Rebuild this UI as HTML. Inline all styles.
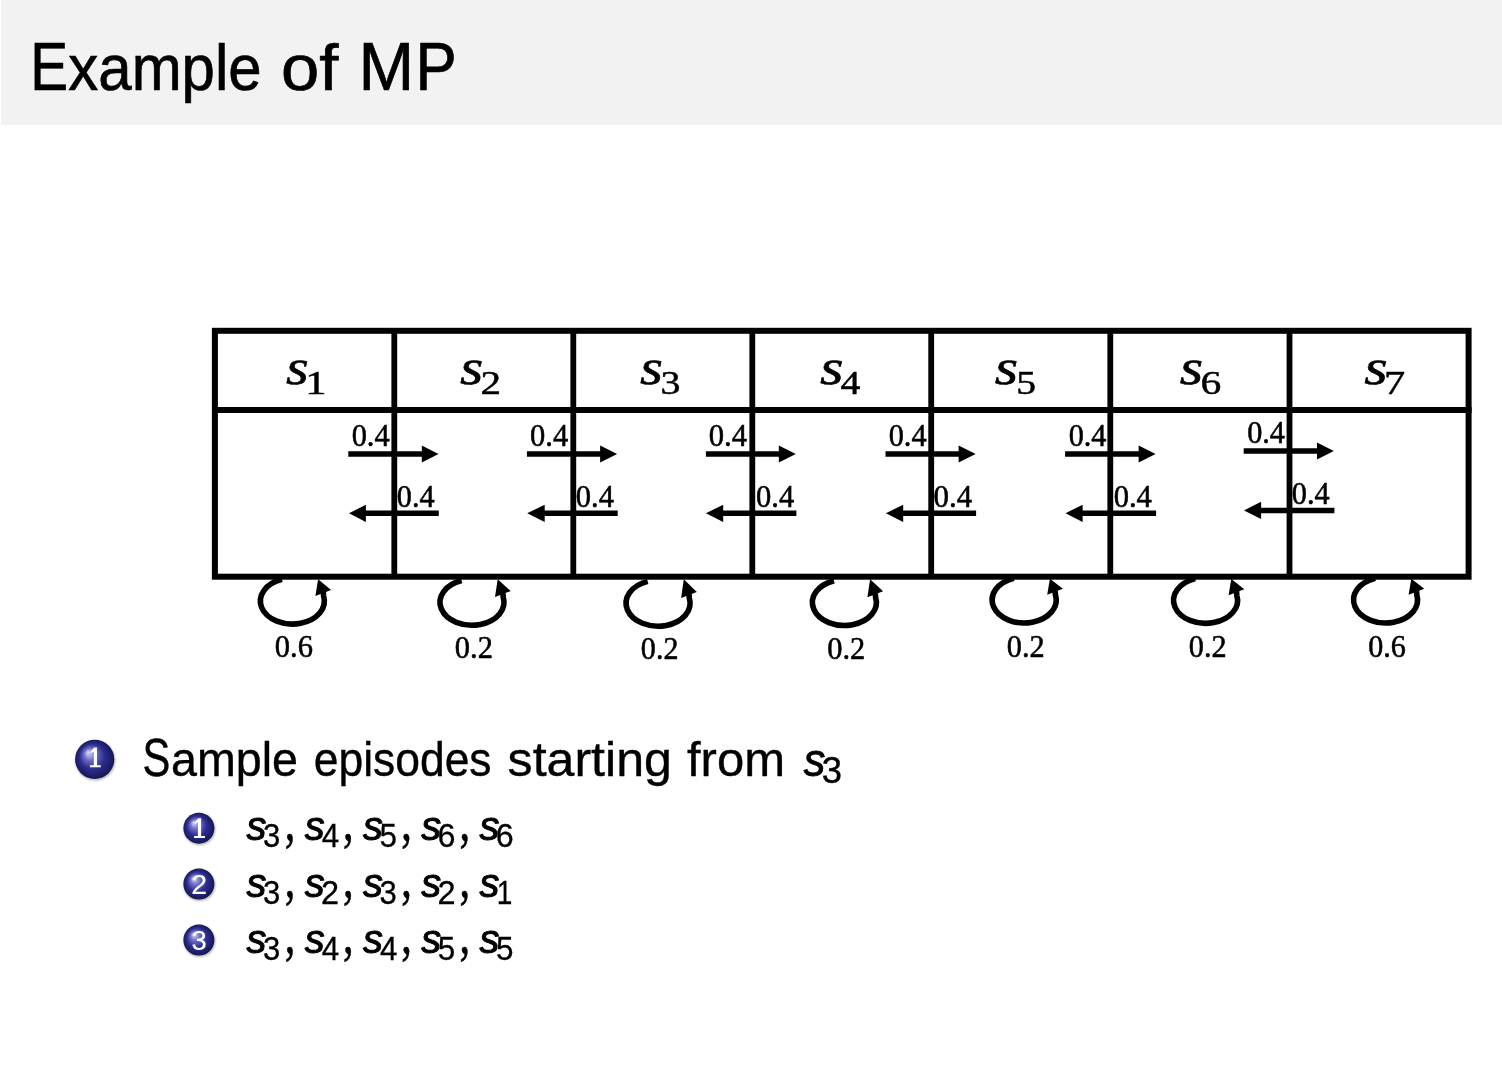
<!DOCTYPE html>
<html><head><meta charset="utf-8"><title>Example of MP</title>
<style>
html,body{margin:0;padding:0;background:#fff;}
body{width:1502px;height:1080px;overflow:hidden;position:relative;}
svg{position:absolute;left:0;top:0;will-change:transform;}
text{font-kerning:none;font-variant-ligatures:none;}
</style></head>
<body>
<svg width="1502" height="1080" viewBox="0 0 1502 1080">
<defs>
<radialGradient id="ball" cx="50%" cy="50%" r="52%" fx="33%" fy="32%">
<stop offset="0" stop-color="#dcdcf4"/>
<stop offset="0.3" stop-color="#6c6cc6"/>
<stop offset="0.62" stop-color="#2c2c8e"/>
<stop offset="1" stop-color="#15154e"/>
</radialGradient>
<filter id="blur" x="-30%" y="-30%" width="160%" height="160%"><feGaussianBlur stdDeviation="1"/></filter>
</defs>
<rect x="1" y="0" width="1501" height="125" fill="#f2f2f2"/>
<text transform="translate(30.34,90.00) scale(0.8357,1.0000)" style="font-family:'Liberation Sans',sans-serif;font-style:normal;font-size:68px;fill:#000;stroke:#000;stroke-width:0.7px;">E</text>
<text transform="translate(68.33,90.00) scale(0.9371,1.0000)" style="font-family:'Liberation Sans',sans-serif;font-style:normal;font-size:64px;fill:#000;stroke:#000;stroke-width:0.7px;">xample</text>
<text transform="translate(280.91,90.00) scale(1.0752,1.0000)" style="font-family:'Liberation Sans',sans-serif;font-style:normal;font-size:64px;fill:#000;stroke:#000;stroke-width:0.7px;">of</text>
<text transform="translate(358.52,90.00) scale(0.9827,1.0000)" style="font-family:'Liberation Sans',sans-serif;font-style:normal;font-size:68px;fill:#000;stroke:#000;stroke-width:0.7px;">M</text>
<text transform="translate(415.43,90.00) scale(0.9091,1.0000)" style="font-family:'Liberation Sans',sans-serif;font-style:normal;font-size:68px;fill:#000;stroke:#000;stroke-width:0.7px;">P</text>
<rect x="214.9" y="330.8" width="1253.7" height="245.9" fill="none" stroke="#000" stroke-width="6"/>
<line x1="212" y1="410.1" x2="1471.6" y2="410.1" stroke="#000" stroke-width="6"/>
<line x1="394.3" y1="330" x2="394.3" y2="577" stroke="#000" stroke-width="5.8"/>
<line x1="573.3" y1="330" x2="573.3" y2="577" stroke="#000" stroke-width="5.8"/>
<line x1="752.3" y1="330" x2="752.3" y2="577" stroke="#000" stroke-width="5.8"/>
<line x1="931.2" y1="330" x2="931.2" y2="577" stroke="#000" stroke-width="5.8"/>
<line x1="1110.3" y1="330" x2="1110.3" y2="577" stroke="#000" stroke-width="5.8"/>
<line x1="1289.5" y1="330" x2="1289.5" y2="577" stroke="#000" stroke-width="5.8"/>
<line x1="348.3" y1="454.0" x2="422.8" y2="454.0" stroke="#000" stroke-width="5.5"/>
<polygon points="421.8,445.5 438.5,454.0 421.8,462.5"/>
<line x1="364.9" y1="513.3" x2="438.8" y2="513.3" stroke="#000" stroke-width="5.5"/>
<polygon points="349.0,513.3 365.9,504.7 365.9,521.9"/>
<text transform="translate(351.64,445.60) scale(0.9815,1.0000)" style="font-family:'Liberation Serif',serif;font-style:normal;font-size:31px;fill:#000;stroke:#000;stroke-width:0.55px;">0.4</text>
<text transform="translate(396.85,506.70) scale(0.9761,1.0000)" style="font-family:'Liberation Serif',serif;font-style:normal;font-size:31px;fill:#000;stroke:#000;stroke-width:0.55px;">0.4</text>
<line x1="526.9" y1="454.0" x2="601.1" y2="454.0" stroke="#000" stroke-width="5.5"/>
<polygon points="600.1,445.5 617.1,454.0 600.1,462.5"/>
<line x1="543.7" y1="513.3" x2="617.7" y2="513.3" stroke="#000" stroke-width="5.5"/>
<polygon points="527.2,513.3 544.7,504.7 544.7,521.9"/>
<text transform="translate(530.04,445.60) scale(0.9842,1.0000)" style="font-family:'Liberation Serif',serif;font-style:normal;font-size:31px;fill:#000;stroke:#000;stroke-width:0.55px;">0.4</text>
<text transform="translate(575.84,506.70) scale(0.9842,1.0000)" style="font-family:'Liberation Serif',serif;font-style:normal;font-size:31px;fill:#000;stroke:#000;stroke-width:0.55px;">0.4</text>
<line x1="705.9" y1="454.0" x2="779.8" y2="454.0" stroke="#000" stroke-width="5.5"/>
<polygon points="778.8,445.5 795.8,454.0 778.8,462.5"/>
<line x1="722.2" y1="513.3" x2="796.4" y2="513.3" stroke="#000" stroke-width="5.5"/>
<polygon points="705.9,513.3 723.2,504.7 723.2,521.9"/>
<text transform="translate(708.63,445.60) scale(0.9896,1.0000)" style="font-family:'Liberation Serif',serif;font-style:normal;font-size:31px;fill:#000;stroke:#000;stroke-width:0.55px;">0.4</text>
<text transform="translate(756.04,506.70) scale(0.9842,1.0000)" style="font-family:'Liberation Serif',serif;font-style:normal;font-size:31px;fill:#000;stroke:#000;stroke-width:0.55px;">0.4</text>
<line x1="885.5" y1="454.0" x2="959.6" y2="454.0" stroke="#000" stroke-width="5.5"/>
<polygon points="958.6,445.5 975.6,454.0 958.6,462.5"/>
<line x1="902.2" y1="513.3" x2="976.1" y2="513.3" stroke="#000" stroke-width="5.5"/>
<polygon points="885.9,513.3 903.2,504.7 903.2,521.9"/>
<text transform="translate(888.64,445.60) scale(0.9788,1.0000)" style="font-family:'Liberation Serif',serif;font-style:normal;font-size:31px;fill:#000;stroke:#000;stroke-width:0.55px;">0.4</text>
<text transform="translate(933.62,506.70) scale(0.9977,1.0000)" style="font-family:'Liberation Serif',serif;font-style:normal;font-size:31px;fill:#000;stroke:#000;stroke-width:0.55px;">0.4</text>
<line x1="1065.1" y1="454.0" x2="1139.6" y2="454.0" stroke="#000" stroke-width="5.5"/>
<polygon points="1138.6,445.5 1155.6,454.0 1138.6,462.5"/>
<line x1="1081.6" y1="513.3" x2="1156.1" y2="513.3" stroke="#000" stroke-width="5.5"/>
<polygon points="1065.5,513.3 1082.6,504.7 1082.6,521.9"/>
<text transform="translate(1068.65,445.60) scale(0.9761,1.0000)" style="font-family:'Liberation Serif',serif;font-style:normal;font-size:31px;fill:#000;stroke:#000;stroke-width:0.55px;">0.4</text>
<text transform="translate(1113.63,506.70) scale(0.9869,1.0000)" style="font-family:'Liberation Serif',serif;font-style:normal;font-size:31px;fill:#000;stroke:#000;stroke-width:0.55px;">0.4</text>
<line x1="1243.7" y1="451.1" x2="1318.0" y2="451.1" stroke="#000" stroke-width="5.5"/>
<polygon points="1317.0,442.6 1333.8,451.1 1317.0,459.6"/>
<line x1="1260.1" y1="510.4" x2="1334.4" y2="510.4" stroke="#000" stroke-width="5.5"/>
<polygon points="1244.0,510.4 1261.1,501.8 1261.1,519.0"/>
<text transform="translate(1247.15,443.10) scale(0.9761,1.0000)" style="font-family:'Liberation Serif',serif;font-style:normal;font-size:31px;fill:#000;stroke:#000;stroke-width:0.55px;">0.4</text>
<text transform="translate(1291.85,504.20) scale(0.9761,1.0000)" style="font-family:'Liberation Serif',serif;font-style:normal;font-size:31px;fill:#000;stroke:#000;stroke-width:0.55px;">0.4</text>
<text transform="translate(285.99,383.70) scale(1.1425,1.0000)" style="font-family:'Liberation Serif',serif;font-style:italic;font-size:51px;fill:#000;stroke:#000;stroke-width:0.6px;">s</text>
<text transform="translate(305.16,393.60) scale(1.2350,1.0000)" style="font-family:'Liberation Serif',serif;font-style:normal;font-size:34.5px;fill:#000;stroke:#000;stroke-width:0.5px;">1</text>
<text transform="translate(460.07,383.70) scale(1.1708,1.0000)" style="font-family:'Liberation Serif',serif;font-style:italic;font-size:51px;fill:#000;stroke:#000;stroke-width:0.6px;">s</text>
<text transform="translate(480.59,393.60) scale(1.1930,1.0000)" style="font-family:'Liberation Serif',serif;font-style:normal;font-size:34.5px;fill:#000;stroke:#000;stroke-width:0.5px;">2</text>
<text transform="translate(640.08,383.70) scale(1.1538,1.0000)" style="font-family:'Liberation Serif',serif;font-style:italic;font-size:51px;fill:#000;stroke:#000;stroke-width:0.6px;">s</text>
<text transform="translate(660.49,393.60) scale(1.1578,1.0000)" style="font-family:'Liberation Serif',serif;font-style:normal;font-size:34.5px;fill:#000;stroke:#000;stroke-width:0.5px;">3</text>
<text transform="translate(820.06,383.70) scale(1.1821,1.0000)" style="font-family:'Liberation Serif',serif;font-style:italic;font-size:51px;fill:#000;stroke:#000;stroke-width:0.6px;">s</text>
<text transform="translate(840.42,393.60) scale(1.1536,1.0000)" style="font-family:'Liberation Serif',serif;font-style:normal;font-size:34.5px;fill:#000;stroke:#000;stroke-width:0.5px;">4</text>
<text transform="translate(994.87,383.70) scale(1.1764,1.0000)" style="font-family:'Liberation Serif',serif;font-style:italic;font-size:51px;fill:#000;stroke:#000;stroke-width:0.6px;">s</text>
<text transform="translate(1016.19,393.60) scale(1.1513,1.0000)" style="font-family:'Liberation Serif',serif;font-style:normal;font-size:34.5px;fill:#000;stroke:#000;stroke-width:0.5px;">5</text>
<text transform="translate(1179.67,383.70) scale(1.1764,1.0000)" style="font-family:'Liberation Serif',serif;font-style:italic;font-size:51px;fill:#000;stroke:#000;stroke-width:0.6px;">s</text>
<text transform="translate(1200.61,393.60) scale(1.2076,1.0000)" style="font-family:'Liberation Serif',serif;font-style:normal;font-size:34.5px;fill:#000;stroke:#000;stroke-width:0.5px;">6</text>
<text transform="translate(1364.37,383.70) scale(1.1764,1.0000)" style="font-family:'Liberation Serif',serif;font-style:italic;font-size:51px;fill:#000;stroke:#000;stroke-width:0.6px;">s</text>
<text transform="translate(1384.00,393.60) scale(1.2302,1.0000)" style="font-family:'Liberation Serif',serif;font-style:normal;font-size:34.5px;fill:#000;stroke:#000;stroke-width:0.5px;">7</text>
<path d="M282.0,579.3 A32,23 0 1 0 323.6,596.0 L323.3,592.0" fill="none" stroke="#000" stroke-width="5.6"/>
<polygon points="318.1,579.3 315.4,595.9 331.1,589.9"/>
<text transform="translate(274.84,657.20) scale(0.9851,1.0000)" style="font-family:'Liberation Serif',serif;font-style:normal;font-size:31px;fill:#000;stroke:#000;stroke-width:0.55px;">0.6</text>
<path d="M461.6,580.5 A32,23 0 1 0 503.2,597.2 L502.9,593.2" fill="none" stroke="#000" stroke-width="5.6"/>
<polygon points="497.7,579.3 495.0,597.1 510.7,591.1"/>
<text transform="translate(454.84,658.40) scale(0.9816,1.0000)" style="font-family:'Liberation Serif',serif;font-style:normal;font-size:31px;fill:#000;stroke:#000;stroke-width:0.55px;">0.2</text>
<path d="M647.7,581.4 A32,23 0 1 0 689.3,598.1 L689.0,594.1" fill="none" stroke="#000" stroke-width="5.6"/>
<polygon points="683.8,579.3 681.1,598.0 696.8,592.0"/>
<text transform="translate(640.85,659.40) scale(0.9705,1.0000)" style="font-family:'Liberation Serif',serif;font-style:normal;font-size:31px;fill:#000;stroke:#000;stroke-width:0.55px;">0.2</text>
<path d="M834.0,580.7 A32,23 0 1 0 875.6,597.4 L875.3,593.4" fill="none" stroke="#000" stroke-width="5.6"/>
<polygon points="870.1,579.3 867.4,597.3 883.1,591.3"/>
<text transform="translate(827.24,658.90) scale(0.9816,1.0000)" style="font-family:'Liberation Serif',serif;font-style:normal;font-size:31px;fill:#000;stroke:#000;stroke-width:0.55px;">0.2</text>
<path d="M1013.8,578.2 A32,23 0 1 0 1055.4,594.9 L1055.1,590.9" fill="none" stroke="#000" stroke-width="5.6"/>
<polygon points="1049.9,578.8 1047.2,594.8 1062.9,588.8"/>
<text transform="translate(1006.84,657.00) scale(0.9788,1.0000)" style="font-family:'Liberation Serif',serif;font-style:normal;font-size:31px;fill:#000;stroke:#000;stroke-width:0.55px;">0.2</text>
<path d="M1195.2,578.6 A32,23 0 1 0 1236.8,595.3 L1236.5,591.3" fill="none" stroke="#000" stroke-width="5.6"/>
<polygon points="1231.3,578.9 1228.6,595.2 1244.3,589.2"/>
<text transform="translate(1188.85,657.20) scale(0.9760,1.0000)" style="font-family:'Liberation Serif',serif;font-style:normal;font-size:31px;fill:#000;stroke:#000;stroke-width:0.55px;">0.2</text>
<path d="M1375.2,578.2 A32,23 0 1 0 1416.8,594.9 L1416.5,590.9" fill="none" stroke="#000" stroke-width="5.6"/>
<polygon points="1411.3,578.8 1408.6,594.8 1424.3,588.8"/>
<text transform="translate(1368.25,656.70) scale(0.9715,1.0000)" style="font-family:'Liberation Serif',serif;font-style:normal;font-size:31px;fill:#000;stroke:#000;stroke-width:0.55px;">0.6</text>
<circle cx="95.3" cy="760.5" r="20.0" fill="#000" opacity="0.28" filter="url(#blur)"/><circle cx="94.7" cy="759.3" r="19.6" fill="url(#ball)"/>
<path d="M93.78,765.23 L93.78,751.44 L90.86,753.41 L90.86,751.24 L94.08,747.50 L97.02,747.50 L97.02,765.23 L100.80,765.23 L100.80,767.20 L90.00,767.20 L90.00,765.23 Z" fill="#fff"/>
<text transform="translate(142.41,775.50) scale(0.7866,1.0000)" style="font-family:'Liberation Sans',sans-serif;font-style:normal;font-size:53px;fill:#000;stroke:#000;stroke-width:0.4px;">S</text>
<text transform="translate(171.02,775.50) scale(0.9711,1.0000)" style="font-family:'Liberation Sans',sans-serif;font-style:normal;font-size:48px;fill:#000;stroke:#000;stroke-width:0.4px;">ample</text>
<text transform="translate(313.71,775.50) scale(0.9259,1.0000)" style="font-family:'Liberation Sans',sans-serif;font-style:normal;font-size:48px;fill:#000;stroke:#000;stroke-width:0.4px;">episodes</text>
<text transform="translate(507.61,775.50) scale(1.0440,1.0000)" style="font-family:'Liberation Sans',sans-serif;font-style:normal;font-size:48px;fill:#000;stroke:#000;stroke-width:0.4px;">starting</text>
<text transform="translate(687.01,775.50) scale(1.0211,1.0000)" style="font-family:'Liberation Sans',sans-serif;font-style:normal;font-size:48px;fill:#000;stroke:#000;stroke-width:0.4px;">from</text>
<text transform="translate(803.69,775.85) scale(0.9327,1.0000)" style="font-family:'Liberation Sans',sans-serif;font-style:italic;font-size:46.3px;fill:#000;stroke:#000;stroke-width:0.9px;">s</text>
<text transform="translate(821.71,782.50) scale(0.9704,1.0000)" style="font-family:'Liberation Sans',sans-serif;font-style:normal;font-size:37.6px;fill:#000;stroke:#000;stroke-width:0.4px;">3</text>
<circle cx="199.5" cy="829.35" r="15.9" fill="#000" opacity="0.28" filter="url(#blur)"/><circle cx="198.9" cy="828.15" r="15.5" fill="url(#ball)"/>
<path d="M197.88,836.11 L197.88,822.18 L194.96,824.17 L194.96,821.98 L198.18,818.20 L201.12,818.20 L201.12,836.11 L204.90,836.11 L204.90,838.10 L194.10,838.10 L194.10,836.11 Z" fill="#fff"/>
<text transform="translate(246.60,839.90) scale(0.9714,1.0000)" style="font-family:'Liberation Sans',sans-serif;font-style:italic;font-size:41px;fill:#000;stroke:#000;stroke-width:1.0px;">s</text>
<text transform="translate(263.12,846.90) scale(0.9395,1.0000)" style="font-family:'Liberation Sans',sans-serif;font-style:normal;font-size:33px;fill:#000;stroke:#000;stroke-width:0.3px;">3</text>
<text transform="translate(284.79,839.90) scale(0.7554,1.0000)" style="font-family:'Liberation Serif',serif;font-style:normal;font-size:56px;fill:#000;stroke:#000;stroke-width:0.6px;">,</text>
<text transform="translate(304.85,839.90) scale(0.9714,1.0000)" style="font-family:'Liberation Sans',sans-serif;font-style:italic;font-size:41px;fill:#000;stroke:#000;stroke-width:1.0px;">s</text>
<text transform="translate(321.83,846.90) scale(0.9502,1.0000)" style="font-family:'Liberation Sans',sans-serif;font-style:normal;font-size:33px;fill:#000;stroke:#000;stroke-width:0.3px;">4</text>
<text transform="translate(343.04,839.90) scale(0.7554,1.0000)" style="font-family:'Liberation Serif',serif;font-style:normal;font-size:56px;fill:#000;stroke:#000;stroke-width:0.6px;">,</text>
<text transform="translate(363.10,839.90) scale(0.9714,1.0000)" style="font-family:'Liberation Sans',sans-serif;font-style:italic;font-size:41px;fill:#000;stroke:#000;stroke-width:1.0px;">s</text>
<text transform="translate(379.54,846.90) scale(0.9523,1.0000)" style="font-family:'Liberation Sans',sans-serif;font-style:normal;font-size:33px;fill:#000;stroke:#000;stroke-width:0.3px;">5</text>
<text transform="translate(401.29,839.90) scale(0.7554,1.0000)" style="font-family:'Liberation Serif',serif;font-style:normal;font-size:56px;fill:#000;stroke:#000;stroke-width:0.6px;">,</text>
<text transform="translate(421.35,839.90) scale(0.9714,1.0000)" style="font-family:'Liberation Sans',sans-serif;font-style:italic;font-size:41px;fill:#000;stroke:#000;stroke-width:1.0px;">s</text>
<text transform="translate(437.41,846.90) scale(0.9785,1.0000)" style="font-family:'Liberation Sans',sans-serif;font-style:normal;font-size:33px;fill:#000;stroke:#000;stroke-width:0.3px;">6</text>
<text transform="translate(459.54,839.90) scale(0.7554,1.0000)" style="font-family:'Liberation Serif',serif;font-style:normal;font-size:56px;fill:#000;stroke:#000;stroke-width:0.6px;">,</text>
<text transform="translate(479.60,839.90) scale(0.9714,1.0000)" style="font-family:'Liberation Sans',sans-serif;font-style:italic;font-size:41px;fill:#000;stroke:#000;stroke-width:1.0px;">s</text>
<text transform="translate(495.66,846.90) scale(0.9785,1.0000)" style="font-family:'Liberation Sans',sans-serif;font-style:normal;font-size:33px;fill:#000;stroke:#000;stroke-width:0.3px;">6</text>
<circle cx="199.5" cy="885.2" r="15.9" fill="#000" opacity="0.28" filter="url(#blur)"/><circle cx="198.9" cy="884" r="15.5" fill="url(#ball)"/>
<text transform="translate(191.16,894.00) scale(0.2854,0.2750)" style="font-family:'Liberation Sans',sans-serif;font-style:normal;font-size:100.0px;fill:#fff;stroke:#fff;stroke-width:0.5px;">2</text>
<text transform="translate(246.60,896.60) scale(0.9714,1.0000)" style="font-family:'Liberation Sans',sans-serif;font-style:italic;font-size:41px;fill:#000;stroke:#000;stroke-width:1.0px;">s</text>
<text transform="translate(263.12,903.60) scale(0.9395,1.0000)" style="font-family:'Liberation Sans',sans-serif;font-style:normal;font-size:33px;fill:#000;stroke:#000;stroke-width:0.3px;">3</text>
<text transform="translate(284.79,896.60) scale(0.7554,1.0000)" style="font-family:'Liberation Serif',serif;font-style:normal;font-size:56px;fill:#000;stroke:#000;stroke-width:0.6px;">,</text>
<text transform="translate(304.85,896.60) scale(0.9714,1.0000)" style="font-family:'Liberation Sans',sans-serif;font-style:italic;font-size:41px;fill:#000;stroke:#000;stroke-width:1.0px;">s</text>
<text transform="translate(320.92,903.60) scale(0.9845,1.0000)" style="font-family:'Liberation Sans',sans-serif;font-style:normal;font-size:33px;fill:#000;stroke:#000;stroke-width:0.3px;">2</text>
<text transform="translate(343.04,896.60) scale(0.7554,1.0000)" style="font-family:'Liberation Serif',serif;font-style:normal;font-size:56px;fill:#000;stroke:#000;stroke-width:0.6px;">,</text>
<text transform="translate(363.10,896.60) scale(0.9714,1.0000)" style="font-family:'Liberation Sans',sans-serif;font-style:italic;font-size:41px;fill:#000;stroke:#000;stroke-width:1.0px;">s</text>
<text transform="translate(379.62,903.60) scale(0.9395,1.0000)" style="font-family:'Liberation Sans',sans-serif;font-style:normal;font-size:33px;fill:#000;stroke:#000;stroke-width:0.3px;">3</text>
<text transform="translate(401.29,896.60) scale(0.7554,1.0000)" style="font-family:'Liberation Serif',serif;font-style:normal;font-size:56px;fill:#000;stroke:#000;stroke-width:0.6px;">,</text>
<text transform="translate(421.35,896.60) scale(0.9714,1.0000)" style="font-family:'Liberation Sans',sans-serif;font-style:italic;font-size:41px;fill:#000;stroke:#000;stroke-width:1.0px;">s</text>
<text transform="translate(437.42,903.60) scale(0.9845,1.0000)" style="font-family:'Liberation Sans',sans-serif;font-style:normal;font-size:33px;fill:#000;stroke:#000;stroke-width:0.3px;">2</text>
<text transform="translate(459.54,896.60) scale(0.7554,1.0000)" style="font-family:'Liberation Serif',serif;font-style:normal;font-size:56px;fill:#000;stroke:#000;stroke-width:0.6px;">,</text>
<text transform="translate(479.60,896.60) scale(0.9714,1.0000)" style="font-family:'Liberation Sans',sans-serif;font-style:italic;font-size:41px;fill:#000;stroke:#000;stroke-width:1.0px;">s</text>
<text transform="translate(496.66,903.60) scale(0.8504,1.0000)" style="font-family:'Liberation Sans',sans-serif;font-style:normal;font-size:33px;fill:#000;stroke:#000;stroke-width:0.3px;">1</text>
<circle cx="199.5" cy="941.2" r="15.9" fill="#000" opacity="0.28" filter="url(#blur)"/><circle cx="198.9" cy="940" r="15.5" fill="url(#ball)"/>
<text transform="translate(191.56,949.74) scale(0.2742,0.2712)" style="font-family:'Liberation Sans',sans-serif;font-style:normal;font-size:100.0px;fill:#fff;stroke:#fff;stroke-width:0.5px;">3</text>
<text transform="translate(246.60,952.70) scale(0.9714,1.0000)" style="font-family:'Liberation Sans',sans-serif;font-style:italic;font-size:41px;fill:#000;stroke:#000;stroke-width:1.0px;">s</text>
<text transform="translate(263.12,959.70) scale(0.9395,1.0000)" style="font-family:'Liberation Sans',sans-serif;font-style:normal;font-size:33px;fill:#000;stroke:#000;stroke-width:0.3px;">3</text>
<text transform="translate(284.79,952.70) scale(0.7554,1.0000)" style="font-family:'Liberation Serif',serif;font-style:normal;font-size:56px;fill:#000;stroke:#000;stroke-width:0.6px;">,</text>
<text transform="translate(304.85,952.70) scale(0.9714,1.0000)" style="font-family:'Liberation Sans',sans-serif;font-style:italic;font-size:41px;fill:#000;stroke:#000;stroke-width:1.0px;">s</text>
<text transform="translate(321.83,959.70) scale(0.9502,1.0000)" style="font-family:'Liberation Sans',sans-serif;font-style:normal;font-size:33px;fill:#000;stroke:#000;stroke-width:0.3px;">4</text>
<text transform="translate(343.04,952.70) scale(0.7554,1.0000)" style="font-family:'Liberation Serif',serif;font-style:normal;font-size:56px;fill:#000;stroke:#000;stroke-width:0.6px;">,</text>
<text transform="translate(363.10,952.70) scale(0.9714,1.0000)" style="font-family:'Liberation Sans',sans-serif;font-style:italic;font-size:41px;fill:#000;stroke:#000;stroke-width:1.0px;">s</text>
<text transform="translate(380.08,959.70) scale(0.9502,1.0000)" style="font-family:'Liberation Sans',sans-serif;font-style:normal;font-size:33px;fill:#000;stroke:#000;stroke-width:0.3px;">4</text>
<text transform="translate(401.29,952.70) scale(0.7554,1.0000)" style="font-family:'Liberation Serif',serif;font-style:normal;font-size:56px;fill:#000;stroke:#000;stroke-width:0.6px;">,</text>
<text transform="translate(421.35,952.70) scale(0.9714,1.0000)" style="font-family:'Liberation Sans',sans-serif;font-style:italic;font-size:41px;fill:#000;stroke:#000;stroke-width:1.0px;">s</text>
<text transform="translate(437.79,959.70) scale(0.9523,1.0000)" style="font-family:'Liberation Sans',sans-serif;font-style:normal;font-size:33px;fill:#000;stroke:#000;stroke-width:0.3px;">5</text>
<text transform="translate(459.54,952.70) scale(0.7554,1.0000)" style="font-family:'Liberation Serif',serif;font-style:normal;font-size:56px;fill:#000;stroke:#000;stroke-width:0.6px;">,</text>
<text transform="translate(479.60,952.70) scale(0.9714,1.0000)" style="font-family:'Liberation Sans',sans-serif;font-style:italic;font-size:41px;fill:#000;stroke:#000;stroke-width:1.0px;">s</text>
<text transform="translate(496.04,959.70) scale(0.9523,1.0000)" style="font-family:'Liberation Sans',sans-serif;font-style:normal;font-size:33px;fill:#000;stroke:#000;stroke-width:0.3px;">5</text>
</svg>
</body></html>
